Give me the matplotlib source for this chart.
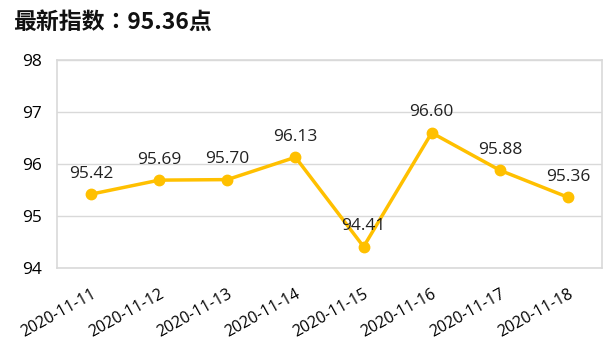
import matplotlib
matplotlib.use("Agg")
import matplotlib.pyplot as plt
from matplotlib.transforms import ScaledTranslation

plt.rcParams["font.family"] = ["Open Sans", "Noto Sans CJK SC", "DejaVu Sans"]

# daily index values
dates = ["2020-11-11", "2020-11-12", "2020-11-13", "2020-11-14",
         "2020-11-15", "2020-11-16", "2020-11-17", "2020-11-18"]
values = [95.42, 95.69, 95.70, 96.13, 94.41, 96.60, 95.88, 95.36]
y_ticks = [94, 95, 96, 97, 98]

GOLD = "#FFC000"
GRID = "#D9D9D9"

fig = plt.figure(figsize=(6.10, 3.46), dpi=100)
ax = fig.add_axes([0.0934, 0.2254, 0.8936, 0.6012])

x = list(range(len(dates)))
ax.plot(x, values, color=GOLD, lw=2.5, marker="o", ms=7.5, zorder=3)
for xi, v in zip(x, values):
    ax.annotate("%.2f" % v, (xi, v), xytext=(0, 9), textcoords="offset points",
                ha="center", va="bottom", fontsize=12.5, color="#222222")

ax.set_xlim(-0.5, len(dates) - 0.5)
ax.set_ylim(94, 98)
ax.set_yticks(y_ticks)
ax.set_xticks(x)
ax.set_xticklabels(dates, rotation=29, ha="right", rotation_mode="anchor",
                   fontsize=11.5)
shift = ScaledTranslation(-1 / 72, 0, fig.dpi_scale_trans)
for lab in ax.get_xticklabels():
    lab.set_transform(lab.get_transform() + shift)
ax.tick_params(axis="y", labelsize=12.5, length=0, pad=11)
ax.tick_params(axis="x", length=0, pad=13)
ax.grid(axis="y", color=GRID, lw=1)
ax.set_axisbelow(True)
for s in ax.spines.values():
    s.set_color(GRID)
    s.set_linewidth(1.2)

fig.text(0.022, 0.935, "最新指数：95.36点", fontsize=16.5, fontweight="bold",
         va="center", ha="left", color="#111111",
         family=["Noto Sans CJK TC", "DejaVu Sans"])

fig.savefig("out.png", dpi=100)
